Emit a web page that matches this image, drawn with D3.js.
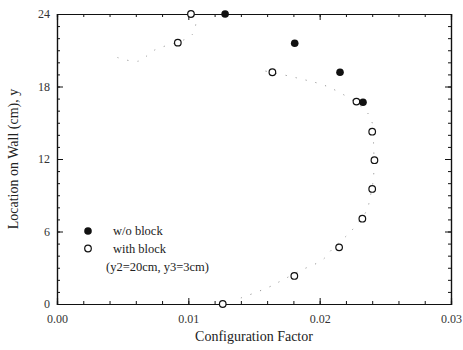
<html>
<head>
    <title>Configuration Factor</title>
    <style>
        body { margin: 0; background: #fff; }
    </style>
</head>
<body>
<div id="my_dataviz"></div>
<script src="https://d3js.org/d3.v7.min.js"></script>
<script>

    // measured points, w/o block (filled)
    var noBlockX = [0.0128, 0.0181, 0.02155, 0.0233];
    var noBlockY = [24, 21.58, 19.18, 16.7];

    // measured points, with block (open)
    var blockX = [0.0102, 0.0092, 0.0164, 0.0228, 0.0240, 0.02417, 0.0240, 0.02325, 0.02148, 0.01807, 0.01262];
    var blockY = [24, 21.63, 19.18, 16.75, 14.26, 11.9, 9.52, 7.06, 4.69, 2.32, 0];

    // faint dotted curve (two pieces)
    var curveLowX = [0.0140, 0.0161, 0.0172, 0.0186, 0.0202, 0.0209, 0.0221, 0.0228, 0.0236, 0.0238, 0.0241, 0.0241, 0.0240, 0.0235, 0.0208, 0.0183, 0.0153];
    var curveLowY = [0.5, 1.38, 2.0, 2.8, 3.64, 4.47, 5.71, 6.54, 7.78, 8.61, 10.5, 13.4, 15.0, 16.0, 17.9, 18.7, 19.4];
    var curveHighX = [0.0046, 0.0062, 0.0074, 0.0103, 0.0106];
    var curveHighY = [20.4, 20.1, 21.0, 22.3, 23.7];

    var xTicks = [0, 0.01, 0.02, 0.03];
    var yTicks = [0, 6, 12, 18, 24];

    var serif = "'Liberation Serif', 'Times New Roman', Times, 'DejaVu Serif', serif";

    var margin = { top: 14, right: 12, bottom: 46, left: 57 },
        width = 463 - margin.left - margin.right,
        height = 350 - margin.top - margin.bottom;

    var svg = d3.select("#my_dataviz")
        .append("svg")
        .attr("width", width + margin.left + margin.right)
        .attr("height", height + margin.top + margin.bottom)
        .append("g")
        .attr("transform", "translate(" + margin.left + "," + margin.top + ")");

    var x = d3.scaleLinear().domain([0, 0.03]).range([0, width]);
    var y = d3.scaleLinear().domain([0, 24]).range([height, 0]);

    var xMinor = d3.range(0, 0.0301, 0.002);
    var yMinor = d3.range(0, 24.1, 1);

    function styleAxis(g) {
        g.attr("font-family", null).attr("font-size", null);
        g.select(".domain").attr("stroke", "#111").attr("stroke-width", 1.2);
        g.selectAll(".tick line").attr("stroke", "#111");
        g.selectAll(".tick text")
            .style("font-size", "12px")
            .style("font-family", serif)
            .attr("fill", "#333");
    }

    // minor ticks first (no labels)
    svg.append("g").attr("transform", "translate(0," + height + ")")
        .call(d3.axisBottom(x).tickValues(xMinor).tickSize(-3).tickFormat(""))
        .call(styleAxis);
    svg.append("g")
        .call(d3.axisTop(x).tickValues(xMinor).tickSize(-3).tickFormat(""))
        .call(styleAxis);
    svg.append("g")
        .call(d3.axisLeft(y).tickValues(yMinor).tickSize(-3).tickFormat(""))
        .call(styleAxis);
    svg.append("g").attr("transform", "translate(" + width + ",0)")
        .call(d3.axisRight(y).tickValues(yMinor).tickSize(-3).tickFormat(""))
        .call(styleAxis);

    // major ticks
    svg.append("g").attr("transform", "translate(0," + height + ")")
        .call(d3.axisBottom(x).tickValues(xTicks).tickSize(-6).tickPadding(10).tickFormat(d3.format(".2f")))
        .call(styleAxis);
    svg.append("g")
        .call(d3.axisTop(x).tickValues(xTicks).tickSize(-6).tickFormat(""))
        .call(styleAxis);
    svg.append("g")
        .call(d3.axisLeft(y).tickValues(yTicks).tickSize(-6).tickPadding(7).tickFormat(d3.format("d")))
        .call(styleAxis);
    svg.append("g").attr("transform", "translate(" + width + ",0)")
        .call(d3.axisRight(y).tickValues(yTicks).tickSize(-6).tickFormat(""))
        .call(styleAxis);

    // dotted curve
    var line = d3.line()
        .x(function (d) { return x(d[0]); })
        .y(function (d) { return y(d[1]); })
        .curve(d3.curveCatmullRom);

    [[curveLowX, curveLowY], [curveHighX, curveHighY]].forEach(function (c) {
        svg.append("path")
            .datum(c[0].map(function (v, i) { return [v, c[1][i]]; }))
            .attr("d", line)
            .attr("fill", "none")
            .attr("stroke", "#999")
            .attr("stroke-width", 1)
            .attr("stroke-dasharray", "1.2,9");
    });

    // open circles
    svg.append("g").selectAll("circle")
        .data(blockX.map(function (v, i) { return [v, blockY[i]]; }))
        .enter().append("circle")
        .attr("cx", function (d) { return x(d[0]); })
        .attr("cy", function (d) { return y(d[1]); })
        .attr("r", 3.3)
        .attr("fill", "#fff")
        .attr("stroke", "#111")
        .attr("stroke-width", 1.2);

    // filled circles
    svg.append("g").selectAll("circle")
        .data(noBlockX.map(function (v, i) { return [v, noBlockY[i]]; }))
        .enter().append("circle")
        .attr("cx", function (d) { return x(d[0]); })
        .attr("cy", function (d) { return y(d[1]); })
        .attr("r", 3.8)
        .attr("fill", "#111");

    // legend
    var leg = svg.append("g").attr("transform", "translate(" + (88 - margin.left) + "," + (231 - margin.top) + ")");
    leg.append("circle").attr("cx", 0).attr("cy", 0).attr("r", 3.8).attr("fill", "#111");
    leg.append("text").attr("x", 25).attr("y", 4).style("font-family", serif).style("font-size", "12.5px").attr("fill", "#222").text("w/o block");
    leg.append("circle").attr("cx", 0).attr("cy", 17.5).attr("r", 3.3)
        .attr("fill", "#fff").attr("stroke", "#111").attr("stroke-width", 1.2);
    leg.append("text").attr("x", 25).attr("y", 21.5).style("font-family", serif).style("font-size", "12.5px").attr("fill", "#222").text("with block");
    leg.append("text").attr("x", 18).attr("y", 40).style("font-family", serif).style("font-size", "12.5px").attr("fill", "#222").text("(y2=20cm, y3=3cm)");

    // axis titles
    svg.append("text")
        .attr("x", width / 2)
        .attr("y", height + 37)
        .attr("text-anchor", "middle")
        .style("font-family", serif)
        .style("font-size", "14px")
        .attr("fill", "#222")
        .text("Configuration Factor");

    svg.append("text")
        .attr("transform", "rotate(-90)")
        .attr("x", -height / 2)
        .attr("y", -39)
        .attr("text-anchor", "middle")
        .style("font-family", serif)
        .style("font-size", "14px")
        .attr("fill", "#222")
        .text("Location on Wall (cm), y");

</script>
</body>
</html>
